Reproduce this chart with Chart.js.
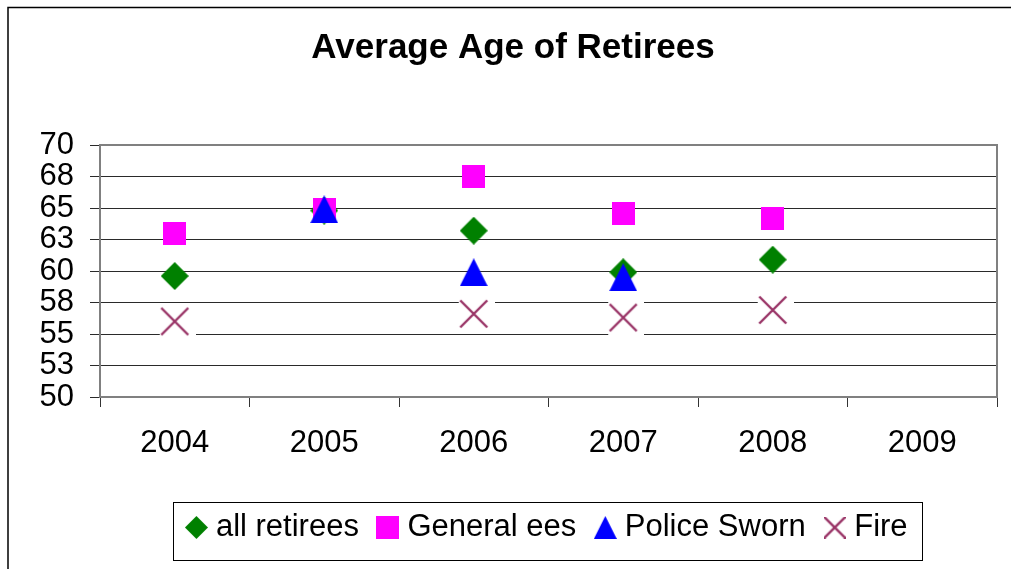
<!DOCTYPE html>
<html>
<head>
<meta charset="utf-8">
<title>Average Age of Retirees</title>
<script src="https://cdn.jsdelivr.net/npm/chart.js@4.4.1/dist/chart.umd.min.js"></script>
<style>
  html, body { margin: 0; padding: 0; background: #fff; }
</style>
</head>
<body>
<canvas id="retireeChart" width="1011" height="569"></canvas>
<script>
const YEARS = ["2004", "2005", "2006", "2007", "2008", "2009"];
const ALL_RETIREES = [59.6, 64.8, 63.2, 59.9, 60.9, null];
const GENERAL_EES = [63.0, 64.9, 67.5, 64.6, 64.2, null];
const POLICE_SWORN = [null, 64.9, 59.9, 59.5, null, null];
const FIRE = [56.0, null, 56.6, 56.3, 56.9, null];
const Y_MIN = 50;
const Y_MAX = 70;
const Y_STEP = 2.5;

const GREEN = "#008000";
const MAGENTA = "#FF00FF";
const BLUE = "#0000FF";
const PLUM = "#993366";

const FONT = "Arial, 'Liberation Sans', sans-serif";
const LEFT_PAD = 29;
const LEGEND_SHIFT = 37;

// marker glyphs are small offscreen canvases, chart.js centres them on each point
function markerCanvas(w, h, draw) {
    const c = document.createElement("canvas");
    c.width = w;
    c.height = h;
    draw(c.getContext("2d"), w, h);
    return c;
}

function diamond(size, color) {
    return markerCanvas(size, size, (ctx, w, h) => {
        ctx.fillStyle = color;
        ctx.beginPath();
        ctx.moveTo(w / 2, 0);
        ctx.lineTo(w, h / 2);
        ctx.lineTo(w / 2, h);
        ctx.lineTo(0, h / 2);
        ctx.closePath();
        ctx.fill();
    });
}

function square(size, color) {
    return markerCanvas(size, size, (ctx, w, h) => {
        ctx.fillStyle = color;
        ctx.fillRect(0, 0, w, h);
    });
}

function triangle(size, color) {
    return markerCanvas(size, size, (ctx, w, h) => {
        ctx.fillStyle = color;
        ctx.beginPath();
        ctx.moveTo(w / 2, 0);
        ctx.lineTo(w, h);
        ctx.lineTo(0, h);
        ctx.closePath();
        ctx.fill();
    });
}

// x marker; with halo it sits on a white patch that breaks the grid lines
function cross(size, color, halo) {
    const w = halo ? 42 : size;
    const h = halo ? 38 : size;
    return markerCanvas(w, h, (ctx) => {
        const cx = w / 2;
        const cy = h / 2;
        if (halo) {
            ctx.fillStyle = "#fff";
            ctx.fillRect(cx - 15, cy - 18, 36, 37);
        }
        const r = size / 2;
        ctx.strokeStyle = color;
        ctx.lineWidth = 2.4;
        ctx.beginPath();
        ctx.moveTo(cx - r, cy - r);
        ctx.lineTo(cx + r, cy + r);
        ctx.moveTo(cx + r, cy - r);
        ctx.lineTo(cx - r, cy + r);
        ctx.stroke();
    });
}

const PLOT_MARKS = [diamond(28, GREEN), square(23, MAGENTA), triangle(28, BLUE), cross(27, PLUM, true)];
const LEGEND_MARKS = [diamond(23, GREEN), square(23, MAGENTA), triangle(23, BLUE), cross(22, PLUM, false)];

const frames = {
    id: "frames",
    afterLayout(chart) {
        // legend row sits right of centre
        const lg = chart.legend;
        lg.left += LEGEND_SHIFT;
        lg.right += LEGEND_SHIFT;
        lg.legendHitBoxes.forEach((b) => {
            b.left += LEGEND_SHIFT;
        });
    },
    beforeDatasetsDraw(chart) {
        const ctx = chart.ctx;
        const a = chart.chartArea;
        ctx.save();
        ctx.strokeStyle = "#808080";
        ctx.lineWidth = 2;
        ctx.beginPath();
        ctx.moveTo(a.left, a.top);
        ctx.lineTo(a.right, a.top);
        ctx.lineTo(a.right, a.bottom);
        ctx.stroke();
        ctx.restore();
    },
    afterDraw(chart) {
        const ctx = chart.ctx;
        const boxes = chart.legend.legendHitBoxes;
        const left = Math.min(...boxes.map((b) => b.left));
        const right = Math.max(...boxes.map((b) => b.left + b.width));
        const mid = boxes[0].top + boxes[0].height / 2;
        ctx.save();
        ctx.strokeStyle = "#000";
        ctx.lineWidth = 1;
        ctx.strokeRect(Math.round(left - 19) + 0.5, Math.round(mid - 26) + 0.5, Math.round(right - left + 34), 58);
        // outer frame of the whole chart
        ctx.lineWidth = 1.5;
        ctx.strokeRect(8, 7.5, chart.width + 20, chart.height + 20);
        ctx.restore();
    },
};

Chart.defaults.font.family = FONT;
Chart.defaults.color = "#000";

function series(label, data, idx) {
    return {
        label: label,
        data: data,
        showLine: false,
        pointStyle: PLOT_MARKS[idx],
        pointRadius: 12,
        pointHoverRadius: 12,
        borderColor: [GREEN, MAGENTA, BLUE, PLUM][idx],
        backgroundColor: [GREEN, MAGENTA, BLUE, PLUM][idx],
        order: 4 - idx,
    };
}

const ctx = document.getElementById("retireeChart").getContext("2d");

const chart = new Chart(ctx, {
    type: "line",
    data: {
        labels: YEARS,
        datasets: [
            series("all retirees", ALL_RETIREES, 0),
            series("General ees", GENERAL_EES, 1),
            series("Police Sworn", POLICE_SWORN, 2),
            series("Fire", FIRE, 3),
        ],
    },
    options: {
        responsive: false,
        animation: false,
        layout: {
            padding: { left: LEFT_PAD, right: 14, top: 0, bottom: 16 },
        },
        scales: {
            x: {
                offset: true,
                grid: {
                    offset: true,
                    drawOnChartArea: false,
                    tickLength: 10,
                    color: "#333",
                },
                border: { color: "#808080", width: 2 },
                ticks: {
                    font: { size: 31 },
                    padding: 18,
                    maxRotation: 0,
                },
                afterFit: (scale) => {
                    scale.height = 90;
                },
            },
            y: {
                min: Y_MIN,
                max: Y_MAX,
                grid: {
                    color: "#2a2a2a",
                    tickLength: 10,
                },
                border: { color: "#808080", width: 2 },
                ticks: {
                    stepSize: Y_STEP,
                    autoSkip: false,
                    font: { size: 31 },
                    padding: 16,
                    callback: (v) => Math.round(v),
                },
                afterFit: (scale) => {
                    scale.width = 100 - LEFT_PAD;
                },
            },
        },
        plugins: {
            title: {
                display: true,
                text: "Average Age of Retirees",
                color: "#000",
                font: { size: 35, weight: "bold" },
                padding: { top: 27, bottom: 76 },
            },
            legend: {
                position: "bottom",
                labels: {
                    usePointStyle: true,
                    boxWidth: 8,
                    boxHeight: 8,
                    padding: 25,
                    color: "#000",
                    font: { size: 31 },
                    sort: (a, b) => a.datasetIndex - b.datasetIndex,
                    generateLabels(chart) {
                        const items = Chart.defaults.plugins.legend.labels.generateLabels(chart);
                        items.forEach((it) => {
                            it.pointStyle = LEGEND_MARKS[it.datasetIndex];
                        });
                        return items;
                    },
                },
            },
            tooltip: { enabled: false },
        },
    },
    plugins: [frames],
});
</script>
</body>
</html>
